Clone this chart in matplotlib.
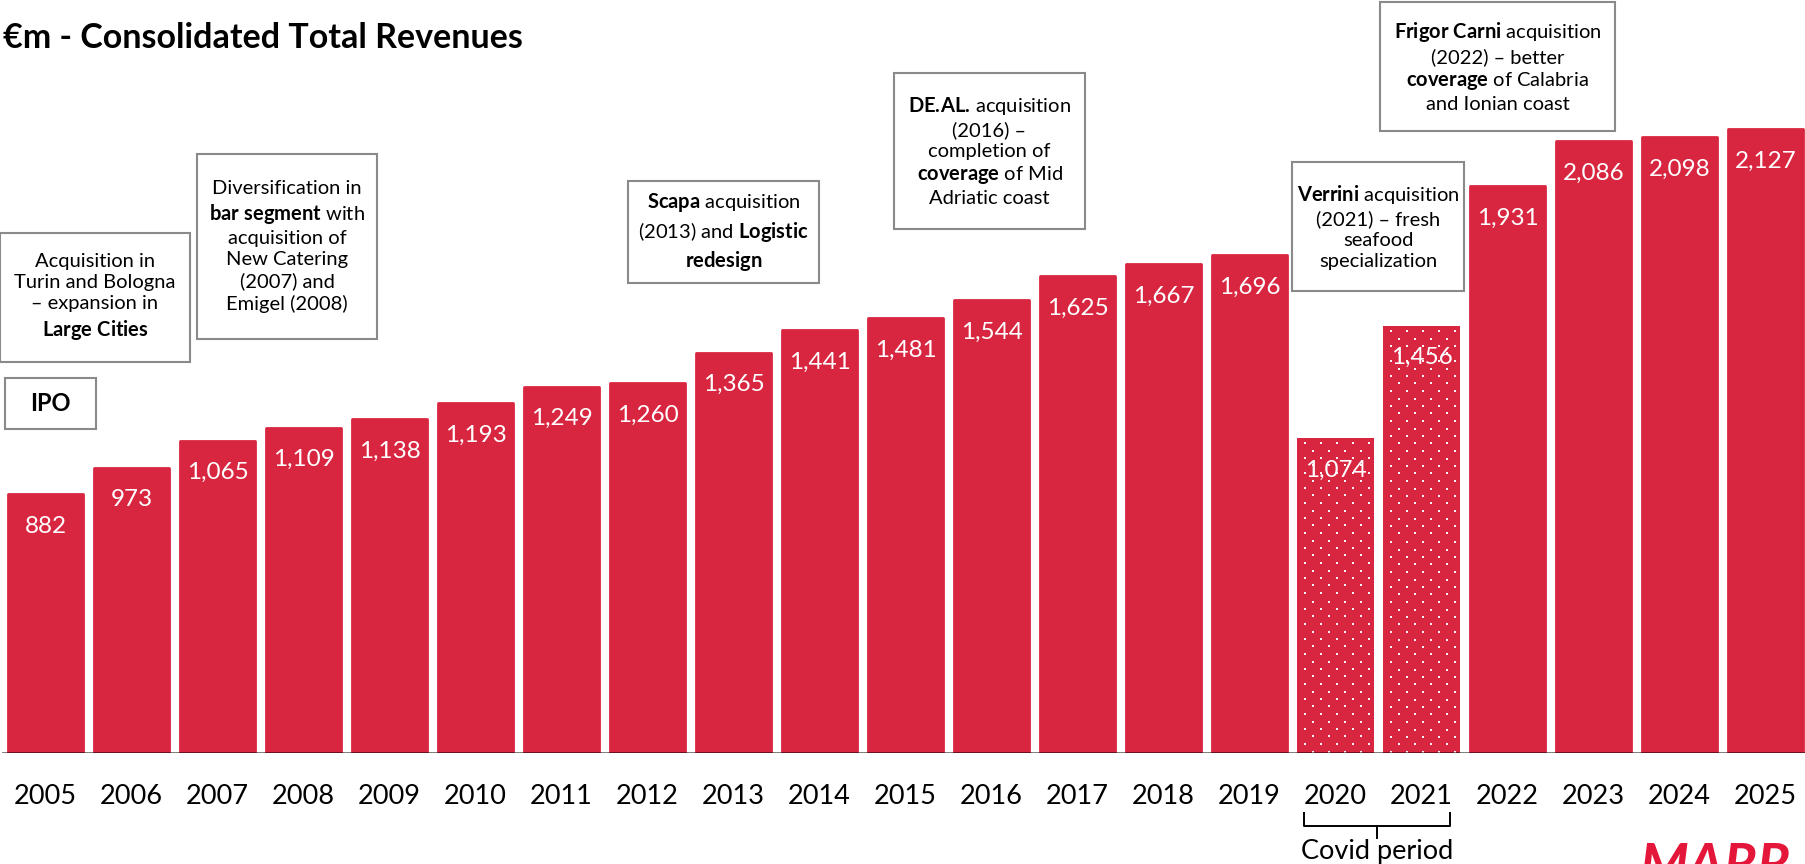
import matplotlib
matplotlib.use("Agg")
import matplotlib.pyplot as plt
from matplotlib.patches import Rectangle
from matplotlib.lines import Line2D
from matplotlib.transforms import blended_transform_factory
import numpy as np

plt.rcParams['font.family'] = ['Lato', 'DejaVu Sans']
plt.rcParams['mathtext.fontset'] = 'custom'
plt.rcParams['mathtext.rm'] = 'Lato'
plt.rcParams['mathtext.bf'] = 'Lato:bold'
plt.rcParams['mathtext.it'] = 'Lato:italic'

# ---- data ----
years = ['2005', '2006', '2007', '2008', '2009', '2010', '2011', '2012', '2013',
         '2014', '2015', '2016', '2017', '2018', '2019', '2020', '2021', '2022',
         '2023', '2024', '2025']
revenues = [882, 973, 1065, 1109, 1138, 1193, 1249, 1260, 1365, 1441, 1481,
            1544, 1625, 1667, 1696, 1074, 1456, 1931, 2086, 2098, 2127]
covid_years = ['2020', '2021']
value_labels = [f"{v:,}" for v in revenues]

title = "€m - Consolidated Total Revenues"
bracket_label = "Covid period"

notes = [
    "Acquisition in\nTurin and Bologna\n– expansion in\n" + r"$\mathbf{Large\ Cities}$",
    "Diversification in\n" + r"$\mathbf{bar\ segment}$" + " with\nacquisition of\nNew Catering\n(2007) and\nEmigel (2008)",
    r"$\mathbf{Scapa}$" + " acquisition\n(2013) and " + r"$\mathbf{Logistic}$" + "\n" + r"$\mathbf{redesign}$",
    r"$\mathbf{DE.\!AL.\!}$" + " acquisition\n(2016) –\ncompletion of\n" + r"$\mathbf{coverage}$" + " of Mid\nAdriatic coast",
    r"$\mathbf{Verrini}$" + " acquisition\n(2021) – fresh\nseafood\nspecialization",
    r"$\mathbf{Frigor\ Carni}$" + " acquisition\n(2022) – better\n" + r"$\mathbf{coverage}$" + " of Calabria\nand Ionian coast",
]
# box extents in pixels (left, top, right, bottom)
note_boxes = [
    (0, 233, 190, 362),
    (197, 154, 377, 339),
    (628, 181, 819, 283),
    (894, 73, 1085, 229),
    (1292, 162, 1464, 291),
    (1380, 2, 1615, 131),
]
ipo_label = "IPO"
ipo_box = (5, 378, 96, 429)

# ---- figure ----
W, H = 1806, 864
fig = plt.figure(figsize=(W / 100, H / 100), dpi=100)
base_px = 753
ax = fig.add_axes([0, (H - base_px) / H, 1, base_px / H])
RED = '#D92640'
pitch = 86.0
first_c = 45.5
px_per_unit = 0.2934

x = np.arange(len(years))
covid_w = 0.895
for xi, yr, v in zip(x, years, revenues):
    if yr in covid_years:
        bar = ax.bar(xi, v, width=covid_w, color=RED, linewidth=0, zorder=2)[0]
        # dotted texture overlay (pixel pattern, clipped to bar)
        wpx = int(round(covid_w * pitch))
        hpx = int(round(v * px_per_unit))
        tex = np.zeros((hpx, wpx, 4))
        for j in range(int(hpx / 7.5) + 1):
            r = 5 + int(round(7.5 * j))
            c0 = 7 + 8 * (j % 2)
            for c in range(c0, wpx - 2, 16):
                if r + 2 <= hpx:
                    tex[r:r + 2, c:c + 2] = [1, 1, 1, 0.95]
        im = ax.imshow(tex, extent=(xi - covid_w / 2, xi + covid_w / 2, 0, v),
                       origin='upper', interpolation='nearest', aspect='auto',
                       zorder=2.5)
        im.set_clip_path(bar)
    else:
        ax.bar(xi, v, width=0.863, color=RED, edgecolor=RED, linewidth=2.0,
               joinstyle='round', zorder=2)

for xi, v, lab in zip(x, revenues, value_labels):
    ax.annotate(lab, (xi, v), xytext=(0, -32), textcoords='offset pixels',
                ha='center', va='center', color='white', fontsize=17.5, zorder=4)

ax.axhline(0, xmin=3 / W, color='black', alpha=0.55, lw=1.3, zorder=3)
ax.set_xlim(-first_c / pitch, (W - first_c) / pitch)
ax.set_ylim(0, base_px / px_per_unit)
ax.set_xticks(x, years, fontsize=19.5)
ax.tick_params(axis='x', length=0, pad=22)
ax.set_yticks([])
for s in ax.spines.values():
    s.set_visible(False)

# covid bracket
i0 = years.index(covid_years[0])
i1 = years.index(covid_years[-1])
bt = blended_transform_factory(ax.transData, fig.transFigure)
bx0, bx1 = i0 - 0.37, i1 + 0.33
bmid = (bx0 + bx1) / 2
fy = lambda p: 1 - p / H
for xs, ys in [([bx0, bx0, bx1, bx1], [813, 826, 826, 813]),
               ([bmid, bmid], [826, 838])]:
    fig.add_artist(Line2D(xs, [fy(y) for y in ys], transform=bt, color='black',
                          lw=1.4, solid_joinstyle='round'))
fig.text(bmid, fy(852), bracket_label, transform=bt, ha='center', va='center',
         fontsize=19.5)

# title
fig.text(3 / W, fy(38), title, fontsize=24.5, fontweight='bold', va='center')

# annotation boxes
def draw_box(l, t, r, b):
    fig.add_artist(Rectangle((l / W, fy(b)), (r - l) / W, (b - t) / H,
                             transform=fig.transFigure, fill=False,
                             edgecolor='#8a8a8a', lw=1.5))

for txt, (l, t, r, b) in zip(notes, note_boxes):
    draw_box(l, t, r, b)
    fig.text((l + r) / 2 / W, fy((t + b) / 2), txt, ha='center', va='center',
             multialignment='center', fontsize=14.5, linespacing=1.29)

l, t, r, b = ipo_box
draw_box(l, t, r, b)
fig.text((l + r) / 2 / W, fy((t + b) / 2), ipo_label, ha='center', va='center',
         fontsize=17, fontweight='bold')

# logo fragment
fig.text(1640 / W, fy(842), 'MARR', color='#E4173A', fontsize=40,
         fontweight='bold', style='italic', va='top')

fig.savefig('out.png', dpi=100)
